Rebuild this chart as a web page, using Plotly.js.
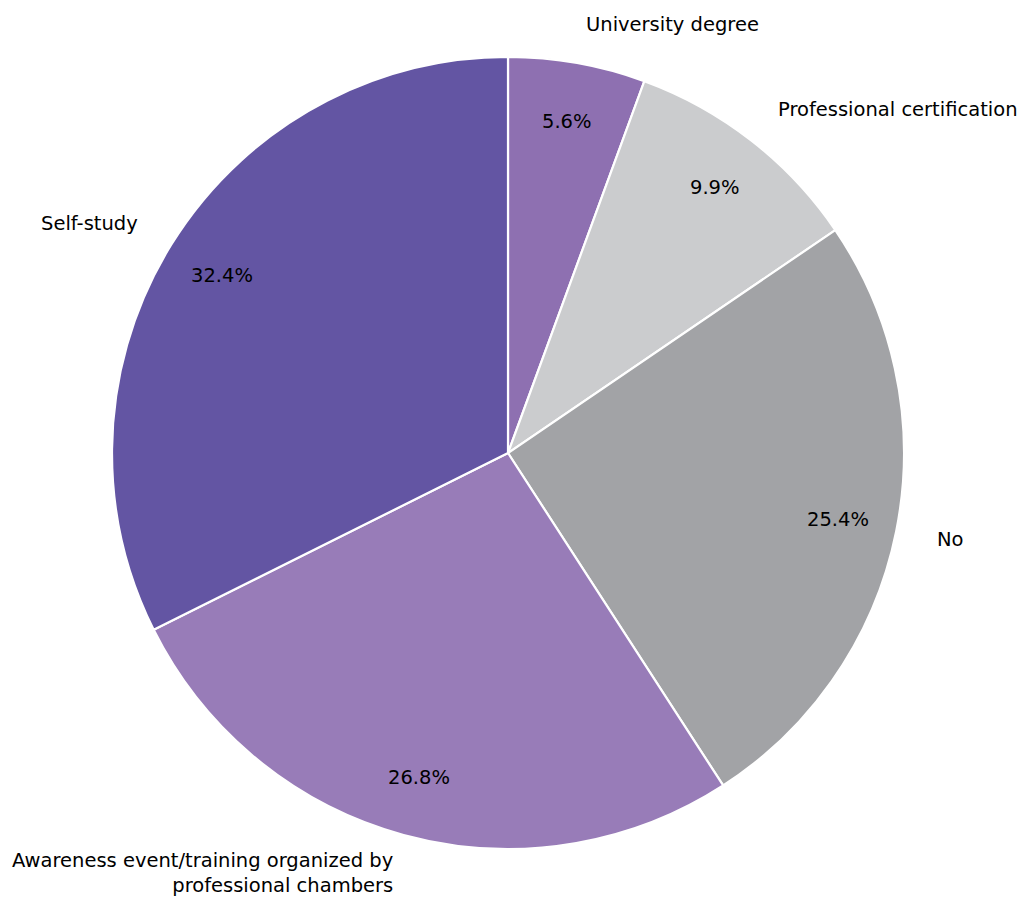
<!DOCTYPE html>
<html><head><meta charset="utf-8">
<script src="https://cdn.plot.ly/plotly-3.0.1.min.js"></script>
<style>body{margin:0;background:#fff}</style>
</head><body>
<div id="chart" style="width:1020px;height:898px"></div>
<script>
const categories = ["University degree", "Professional certification", "No", "Awareness event/training organized by<br>professional chambers", "Self-study"];
const values = [5.6, 9.9, 25.4, 26.8, 32.4];
const colors = ["#8E70B1", "#CBCCCE", "#A2A3A6", "#987CB8", "#6355A3"];

const W = 1020, H = 898;
const cx = 508, cy = 453, R = 396;
const domX = [(cx - R) / W, (cx + R) / W];
const domY = [(H - cy - R) / H, (H - cy + R) / H];

const total = values.reduce((a, b) => a + b, 0);
const annotations = [];
let cum = 0;
const font = {family: "DejaVu Sans", size: 19.5, color: "#000"};
values.forEach((v, i) => {
  const mid = (cum + v / 2) / total * 2 * Math.PI; // clockwise from top
  cum += v;
  const s = Math.sin(mid), c = Math.cos(mid);
  const pd = 0.85 * R;
  annotations.push({
    xref: "paper", yref: "paper",
    x: (cx + pd * s) / W, y: (H - cy + pd * c) / H,
    text: v.toFixed(1) + "%", showarrow: false,
    xanchor: "center", yanchor: "middle", font: font
  });
  const ld = 1.1 * R;
  const right = s < 0;
  annotations.push({
    xref: "paper", yref: "paper",
    x: (cx + ld * s + (right ? 2 : 0)) / W, y: (H - cy + ld * c) / H,
    text: categories[i], showarrow: false,
    xanchor: right ? "right" : "left", yanchor: "middle",
    align: right ? "right" : "left", font: font
  });
});

const data = [{
  type: "pie",
  values: values,
  labels: categories,
  sort: false,
  direction: "clockwise",
  rotation: 0,
  textinfo: "none",
  hoverinfo: "none",
  marker: {colors: colors, line: {color: "#ffffff", width: 2.2}},
  domain: {x: domX, y: domY},
  showlegend: false
}];

const layout = {
  width: W, height: H,
  margin: {l: 0, r: 0, t: 0, b: 0},
  paper_bgcolor: "#fff",
  showlegend: false,
  annotations: annotations
};
Plotly.newPlot("chart", data, layout, {displayModeBar: false, staticPlot: true});
</script>
</body></html>
